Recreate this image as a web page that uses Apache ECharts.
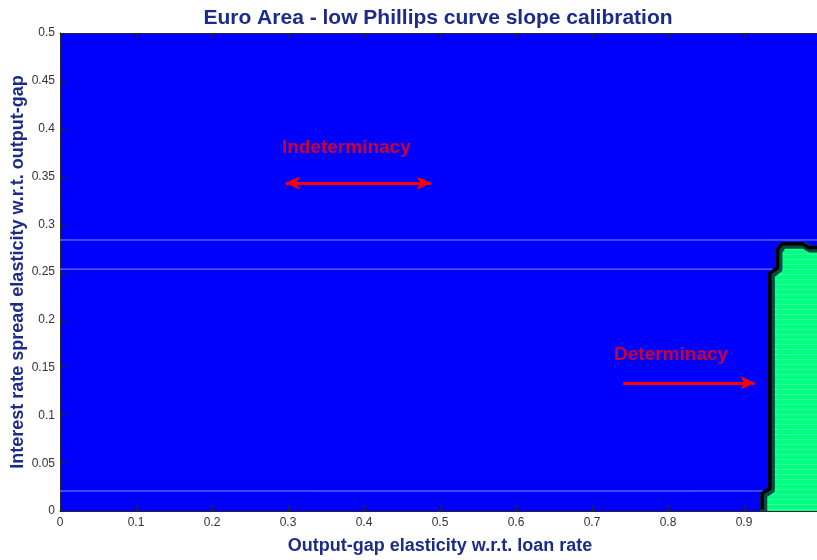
<!DOCTYPE html>
<html><head><meta charset="utf-8">
<script src="https://cdn.jsdelivr.net/npm/echarts@6/dist/echarts.min.js"></script>
<style>html,body{margin:0;padding:0;background:#fff}#c{width:817px;height:560px}</style>
</head><body><div id="c"></div>
<script>
// ---- data ----
const titleText = 'Euro Area - low Phillips curve slope calibration';
const xAxisName = 'Output-gap elasticity w.r.t. loan rate';
const yAxisName = 'Interest rate spread elasticity w.r.t. output-gap';
const xRange = [0, 1];
const yRange = [0, 0.5];
const xStep = 0.1;
const yStep = 0.05;
// boundary of the determinacy region (x, y)
const determinacyBoundary = [
  [0.926, 0], [0.926, 0.017], [0.936, 0.022], [0.936, 0.247], [0.946, 0.253],
  [0.946, 0.272], [0.952, 0.278], [0.979, 0.278], [0.987, 0.274], [1.0, 0.274]
];
const determinacyCorner = [1.0, 0];
// faint contour seams visible in the indeterminacy region (y values)
const contourSeams = [0.0209, 0.253, 0.2835];
// annotations
const annotationTexts = ['Indeterminacy', 'Determinacy'];
const annotationPositions = [[0.292, 0.380], [0.729, 0.163]];
const arrowStarts = [[0.297, 0.343], [0.741, 0.134]];
const arrowEnds = [[0.488, 0.343], [0.914, 0.134]];
const arrowDoubleHeaded = [true, false];

// ---- chart ----
const navy = '#1c2b8a';
const tickColor = '#333333';
const font = 'Arial, "Liberation Sans", Helvetica, sans-serif';

const pc = document.createElement('canvas');
pc.width = 4; pc.height = 5;
const g = pc.getContext('2d');
g.fillStyle = '#00ff80'; g.fillRect(0, 0, 4, 5);
g.fillStyle = '#2eff99'; g.fillRect(0, 4, 4, 1);

const chart = echarts.init(document.getElementById('c'), null, {renderer: 'canvas'});

const axisCommon = {
  axisLine: {show: true, lineStyle: {color: '#262626', width: 1}},
  axisTick: {show: true, inside: true, length: 5, lineStyle: {color: '#262626'}},
  splitLine: {show: false}
};

const option = {
  animation: false,
  backgroundColor: '#ffffff',
  title: {
    text: titleText, left: 433, top: 3, textAlign: 'center',
    textStyle: {fontFamily: font, fontSize: 21, fontWeight: 'bold', color: navy}
  },
  grid: {left: 60, top: 33, width: 760, height: 478, show: true,
         containLabel: false, outerBoundsMode: 'none',
         backgroundColor: '#0000ff', borderWidth: 0},
  xAxis: [{
    type: 'value', min: xRange[0], max: xRange[1], interval: xStep,
    name: xAxisName, nameLocation: 'middle', nameGap: 26, nameMoveOverlap: false,
    nameTextStyle: {fontFamily: font, fontSize: 18, fontWeight: 'bold', color: navy},
    axisLabel: {fontFamily: font, fontSize: 12, color: tickColor, margin: 6, showMaxLabel: false,
                formatter: v => (Math.round(v * 100) / 100).toString()},
    ...axisCommon
  }, {
    type: 'value', position: 'top', min: xRange[0], max: xRange[1], interval: xStep,
    axisLabel: {show: false}, ...axisCommon
  }],
  yAxis: [{
    type: 'value', min: yRange[0], max: yRange[1], interval: yStep,
    name: yAxisName, nameLocation: 'middle', nameGap: 33, nameMoveOverlap: false,
    nameTextStyle: {fontFamily: font, fontSize: 18, fontWeight: 'bold', color: navy},
    axisLabel: {fontFamily: font, fontSize: 12, color: tickColor, margin: 5,
                formatter: v => (Math.round(v * 100) / 100).toString()},
    ...axisCommon
  }],
  series: [
    {
      type: 'custom', z: 2, clip: true,
      data: contourSeams,
      renderItem: function (params, api) {
        const y = api.value(0);
        const a = api.coord([xRange[0], y]);
        const b = api.coord([xRange[1], y]);
        return {type: 'line', shape: {x1: a[0], y1: a[1], x2: b[0], y2: b[1]},
                style: {stroke: '#8c8cff', lineWidth: 1}};
      },
      encode: {y: 0}
    },
    {
      type: 'custom', z: 3, clip: true,
      data: [0],
      renderItem: function (params, api) {
        const pts = determinacyBoundary.map(p => api.coord(p));
        const fillPts = pts.concat([api.coord(determinacyCorner)]);
        return {
          type: 'group',
          children: [
            {type: 'polygon', shape: {points: fillPts},
             style: {fill: {image: pc, repeat: 'repeat'}, stroke: null}},
            {type: 'polyline', shape: {points: pts},
             style: {fill: null, stroke: '#0b4a44', lineWidth: 7, lineJoin: 'round'}},
            {type: 'polyline', shape: {points: pts.map(p => [p[0] - 1.5, p[1] - 1.5])},
             style: {fill: null, stroke: '#000000', lineWidth: 3.5, lineJoin: 'round'}}
          ]
        };
      }
    },
    {
      type: 'scatter', z: 5, symbolSize: 0,
      data: annotationPositions.map((p, i) => ({value: p, name: annotationTexts[i]})),
      label: {
        show: true, position: 'right', distance: 0,
        formatter: p => p.name,
        fontFamily: font, fontSize: 19, fontWeight: 'bold', color: '#ff0000'
      }
    },
    {
      type: 'line', data: [], z: 5,
      markLine: {
        silent: true, label: {show: false}, symbolSize: [10, 14],
        lineStyle: {color: '#ff0000', width: 3, type: 'solid'},
        data: arrowStarts.map((s, i) => [
          {coord: s, symbol: arrowDoubleHeaded[i] ? 'arrow' : 'none'},
          {coord: arrowEnds[i], symbol: 'arrow'}
        ])
      }
    }
  ]
};
chart.setOption(option);
</script>
</body></html>
